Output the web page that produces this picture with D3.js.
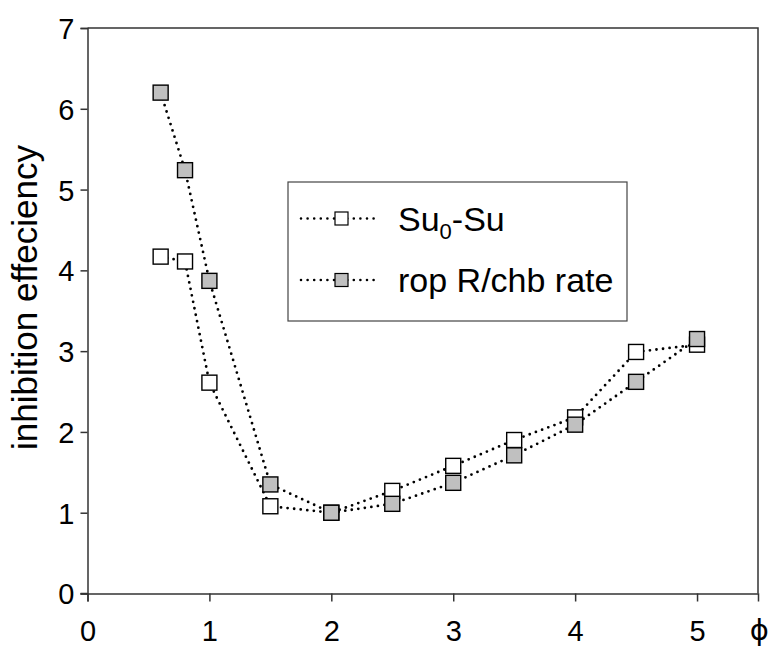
<!DOCTYPE html>
<html>
<head>
<meta charset="utf-8">
<script src="https://cdn.jsdelivr.net/npm/d3@7"></script>
<style>
  html, body { margin: 0; padding: 0; background: #fff; }
  svg { display: block; }
  text { font-family: "Liberation Sans", Arial, sans-serif; fill: #000; }
</style>
</head>
<body>
<svg id="chart" width="770" height="648"></svg>
<script>
// ---- data ----
const phi = [0.6, 0.8, 1.0, 1.5, 2.0, 2.5, 3.0, 3.5, 4.0, 4.5, 5.0];
const su0Su = [4.17, 4.11, 2.61, 1.08, 1.0, 1.27, 1.58, 1.90, 2.18, 2.99, 3.08];
const ropRate = [6.20, 5.24, 3.87, 1.35, 1.0, 1.11, 1.37, 1.71, 2.09, 2.62, 3.15];
const xTicks = [0, 1, 2, 3, 4, 5];
const yTicks = [0, 1, 2, 3, 4, 5, 6, 7];
const seriesNames = ["Su0-Su", "rop R/chb rate"];
const xLabel = "\u03D5";
const yLabel = "inhibition effeciency";

const svg = d3.select("#chart");
const pLeft = 87.5, pRight = 758, pTop = 28, pBottom = 593.5;
const x = d3.scaleLinear().domain([0, 5.5]).range([pLeft, pRight]);
const y = d3.scaleLinear().domain([0, 7]).range([pBottom, pTop]);

// frame (top & right)
svg.append("path")
  .attr("d", `M${pLeft},${pTop}H${pRight}V${pBottom}`)
  .attr("fill", "none").attr("stroke", "#333").attr("stroke-width", 1.5);

// axes
const xAxis = svg.append("g").attr("transform", `translate(0,${pBottom})`)
  .call(d3.axisBottom(x).tickValues(xTicks).tickSizeOuter(0).tickSize(8).tickPadding(20).tickFormat(d3.format("d")));
const yAxis = svg.append("g").attr("transform", `translate(${pLeft},0)`)
  .call(d3.axisLeft(y).tickValues(yTicks).tickSizeOuter(0).tickSize(7).tickPadding(6).tickFormat(d3.format("d")));
[xAxis, yAxis].forEach(g => {
  g.select(".domain").attr("stroke", "#333").attr("stroke-width", 1.5);
  g.selectAll(".tick line").attr("stroke", "#333").attr("stroke-width", 1.5);
  g.selectAll(".tick text").style("font-family", '"Liberation Sans", Arial, sans-serif')
    .style("font-size", "29px").attr("fill", "#000");
});
yAxis.selectAll(".tick text").attr("dy", "0.36em");
xAxis.selectAll(".tick text").attr("dy", "0.68em");
svg.append("line").attr("x1", pLeft - 7).attr("x2", pLeft).attr("y1", pBottom).attr("y2", pBottom)
  .attr("stroke", "#333").attr("stroke-width", 1.5);

// axis labels
svg.append("text").attr("x", 769).attr("y", 640).attr("text-anchor", "end")
  .style("font-size", "29px").style("font-family", '"DejaVu Sans", sans-serif').text(xLabel);
svg.append("text").attr("transform", `translate(37,297.5) rotate(-90)`)
  .attr("text-anchor", "middle").style("font-size", "35px").text(yLabel);

// series
const line = d3.line().x(d => x(d[0])).y(d => y(d[1]));
const ms = 15;
function drawSeries(vals, fill) {
  const pts = phi.map((p, i) => [p, vals[i]]);
  svg.append("path").datum(pts).attr("d", line)
    .attr("fill", "none").attr("stroke", "#000").attr("stroke-width", 2.8)
    .attr("stroke-linecap", "round").attr("stroke-dasharray", "0 6.6");
  svg.append("g").selectAll("rect").data(pts).join("rect")
    .attr("x", d => x(d[0]) - ms / 2).attr("y", d => y(d[1]) - ms / 2)
    .attr("width", ms).attr("height", ms)
    .attr("fill", fill).attr("stroke", "#000").attr("stroke-width", 1.4);
}
drawSeries(su0Su, "#fff");
drawSeries(ropRate, "#c0c0c0");

// legend
const lg = svg.append("g");
lg.append("rect").attr("x", 288).attr("y", 182).attr("width", 339).attr("height", 139)
  .attr("fill", "#fff").attr("stroke", "#444").attr("stroke-width", 1.2);
const rows = [{ y: 218.5, fill: "#fff" }, { y: 280, fill: "#c0c0c0" }];
rows.forEach((r, i) => {
  lg.append("line").attr("x1", 301).attr("x2", 376).attr("y1", r.y).attr("y2", r.y)
    .attr("stroke", "#000").attr("stroke-width", 2.6).attr("stroke-linecap", "round")
    .attr("stroke-dasharray", "0 6.6");
  lg.append("rect").attr("x", 335).attr("y", r.y - 6.5).attr("width", 13).attr("height", 13)
    .attr("fill", r.fill).attr("stroke", "#000").attr("stroke-width", 1.2);
});
const t1 = lg.append("text").attr("x", 398).attr("y", 231).style("font-size", "34px");
t1.append("tspan").text("Su");
t1.append("tspan").attr("dy", 8).style("font-size", "22px").text("0");
t1.append("tspan").attr("dy", -8).text("-Su");
lg.append("text").attr("x", 398).attr("y", 292).style("font-size", "34px").text(seriesNames[1]);
</script>
</body>
</html>
